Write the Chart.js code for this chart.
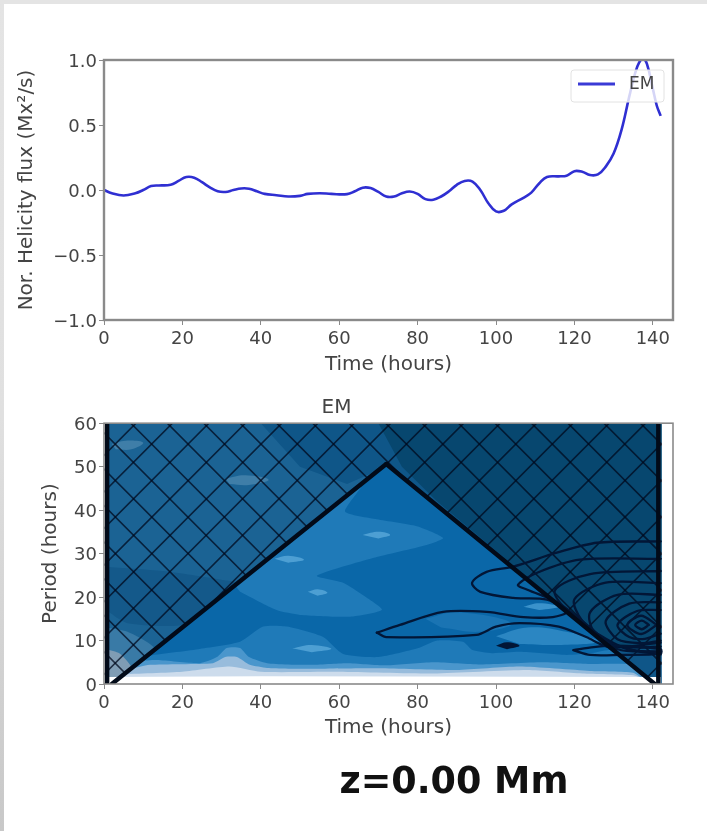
<!DOCTYPE html>
<html lang="en">
<head>
<meta charset="UTF-8">
<title>Helicity flux EM</title>
<style>
    html, body { margin: 0; padding: 0; background: #fff; }
    body { width: 707px; height: 831px; position: relative; overflow: hidden; }
    #strip-top { position: absolute; left: 0; top: 0; width: 707px; height: 4px; background: #e4e4e4; }
    #strip-left { position: absolute; left: 0; top: 0; width: 4px; height: 831px; background: linear-gradient(#e4e4e4, #e0e0e0 50%, #c8c8c8); }
    canvas { position: absolute; left: 0; filter: blur(0.6px); }
    #fluxChart { top: 0; }
    #waveChart { top: 380px; }
    #height-label { position: absolute; left: 0; width: 908px; top: 759px; text-align: center; font: bold 36.5px "DejaVu Sans"; color: #111; filter: blur(0.6px); }
</style>
<script src="https://cdn.jsdelivr.net/npm/chart.js"></script>
</head>
<body>
<div id="strip-top"></div>
<div id="strip-left"></div>
<canvas id="fluxChart" width="707" height="380"></canvas>
<canvas id="waveChart" width="707" height="360"></canvas>
<div id="height-label">z=0.00 Mm</div>
<script>
// tick labels
const timeTicks = [0, 20, 40, 60, 80, 100, 120, 140];
const fluxTicks = [-1, -0.5, 0, 0.5, 1];
const periodTicks = [0, 10, 20, 30, 40, 50, 60];

// helicity flux curve
const fluxTime = [0, 2, 5, 8, 10, 12, 14, 17, 19, 21, 23, 25, 27, 29, 31, 33, 35, 37, 39, 41, 44, 47, 50, 52, 55, 58, 62, 64, 66, 68, 70, 72, 74, 76, 78, 80, 82, 84, 86, 88, 90, 92, 94, 96, 98, 100, 102, 104, 107, 109, 111, 113, 116, 118, 120, 122, 124, 126, 128, 130, 132, 134, 135.5, 136.5, 137.5, 138.5, 140, 141, 142];
const fluxValues = [0, -0.025, -0.042, -0.025, 0, 0.03, 0.035, 0.04, 0.07, 0.1, 0.095, 0.06, 0.02, -0.01, -0.015, 0, 0.012, 0.01, -0.01, -0.03, -0.04, -0.05, -0.045, -0.03, -0.025, -0.03, -0.032, -0.01, 0.018, 0.015, -0.015, -0.05, -0.05, -0.025, -0.012, -0.03, -0.07, -0.075, -0.05, -0.01, 0.04, 0.07, 0.065, 0, -0.1, -0.165, -0.16, -0.11, -0.06, -0.02, 0.05, 0.1, 0.105, 0.11, 0.145, 0.14, 0.115, 0.12, 0.18, 0.28, 0.46, 0.72, 0.9, 0.98, 1.01, 0.97, 0.78, 0.65, 0.57];

// wavelet power regions, [time, period] outlines. outside the cone first
const outerBase = [[0.5, 0], [142.3, 0], [142.3, 60], [0.5, 60]];
const outerMid = [[40, 60], [142.3, 60], [142.3, 0], [137, 0], [72, 50], [62, 46], [50, 50]];
const outerRight = [[70, 60], [142.3, 60], [142.3, 8], [130, 8], [85, 42], [76, 50]];
const outerBand = [[0.5, 27], [15, 26], [30, 24], [34, 23], [22, 14], [6, 14], [0.5, 17]];
const outerGlow1 = [[0.5, 13], [6, 12], [13, 8], [9, 4], [3, 2], [0.5, 2]];
const outerGlow2 = [[0.5, 8], [4, 7], [7, 3.5], [3, 1], [0.5, 1]];
const outerFleck1 = [[2, 55.2], [6, 56], [10, 55.5], [7, 54], [3, 54]];
const outerFleck2 = [[31, 47.2], [36, 48], [42, 47], [37, 45.8], [32, 46]];
const rightMargin = [[142.3, -1], [146, -1], [146, 61], [142.3, 61]];

// hatch crossings along the top edge
const hatchTop = [-57.5, -48.2, -38.9, -29.6, -20.3, -11, -1.8, 7.5, 16.8, 26.1, 35.4, 44.7, 53.9, 63.2, 72.5, 81.8, 91.1, 100.4, 109.7, 119, 128.2, 137.5, 146.8, 156.1, 165.4, 174.7, 184, 193.3, 202.5];

// inside the cone
const coneShape = [[2, 0], [72, 50.6], [140.5, 0]];
const bandUpper = [[33.5, 22.6], [65.5, 45.3], [61.5, 39.7], [69.6, 37.9], [79.8, 36.3], [86.5, 33.6], [82.3, 32], [68.6, 29], [54.3, 24.9], [61, 23.3], [66, 20.5], [70.9, 17.1], [62.8, 15.5], [50, 15.9], [44, 17], [34.7, 21.2]];
const bandLower = [[11, 6.5], [24, 8], [34.7, 9.7], [40.6, 13.2], [46.7, 13.2], [55.9, 10.8], [61, 6.9], [70, 6.2], [80, 8.2], [85, 10], [91.6, 9.7], [94, 7.8], [99, 7.1], [106, 7.4], [118, 6.7], [125, 7.2], [130, 7.8], [137, 2.5], [139, 0.8], [4, 0.8]];
const bandPatchA = [[100, 11], [108, 13], [118, 12], [126, 9.8], [116, 9], [106, 9.2]];
const bandPatchB = [[82, 15], [90, 16.5], [104, 14], [96, 12], [86, 13]];
const bandLight = [[9, 5.3], [13.5, 5.5], [24.5, 4.8], [28.8, 6.2], [31.3, 8.3], [34.7, 8.3], [37, 6.2], [41.6, 4.8], [52.5, 4.4], [62, 4.8], [72, 4.3], [84, 5], [96, 4.5], [112, 5], [124, 4.6], [134, 4.5], [136, 3], [138.5, 0.8], [3, 0.8]];
const bandPale = [[6, 3.3], [11.7, 4.4], [27.8, 4.8], [30.9, 6.2], [33.9, 6.2], [37.2, 4.4], [41.6, 3.7], [52.5, 3.5], [70, 3.6], [90, 3.2], [106, 4], [124, 3], [135, 2.6], [137.5, 0.8], [3, 0.8]];
const bandPaler = [[4.5, 2.2], [20, 2.8], [32, 4], [40, 2.8], [60, 2.8], [84, 2.4], [108, 3.2], [122, 2.4], [135, 2], [137.5, 1], [3, 1]];
const bandBottom = [[0.5, 1.6], [40, 1.8], [142, 1.6], [142, -1], [0.5, -1]];
const fleckA = [[66, 34.3], [70, 35], [73, 34.3], [70, 33.5]];
const fleckB = [[43.5, 28.8], [47, 29.5], [51, 28.6], [47, 27.9]];
const fleckC = [[52, 21.2], [54.5, 21.8], [57, 21], [54.5, 20.3]];
const fleckD = [[48, 8.2], [53, 9], [58, 8.1], [53, 7.3]];
const fleckE = [[107, 17.8], [111, 18.6], [116, 17.8], [111, 17]];

// contour lines of the second series
const contourA = [[69.6, 11.8], [75.5, 13.6], [86.5, 16.6], [97.6, 16.6], [107, 15.4], [114.5, 15.4], [118, 16.6], [113, 19.4], [104.4, 19.8], [96, 21.2], [93.9, 23.3], [97.6, 25.8], [104.4, 27], [115.5, 30.2], [125.8, 32.5], [142, 32.8]];
const contourB = [[69.6, 11.8], [72, 10.8], [95, 11.3], [100, 13.2], [106, 14], [116, 13.2], [123, 10.8], [129, 8.5], [142, 9.5]];
const contourC = [[142, 28.8], [121.4, 28.6], [110.5, 25.6], [105.6, 22.8], [108, 21.7], [116, 18.6], [124, 13], [131, 8], [142, 7.5]];
const contourD = [[142, 26], [124, 25.3], [115, 21.5], [119, 16], [126, 11.5], [133, 8.2], [142, 6.8]];
const contourE = [[142, 23.2], [128, 23.3], [120, 19.5], [122, 14.5], [128, 10], [135, 7.8], [142, 7.3]];
const contourF = [[142, 20.5], [131, 20.5], [124, 16.5], [125, 12], [131, 8.8], [137, 8.4], [142, 8.6]];
const contourG = [[142, 18.8], [134, 18.5], [128, 14.5], [131, 10.3], [137, 9.4], [142, 10]];
const contourH = [[142, 17], [136, 16.8], [131, 13.6], [134, 10.8], [138, 10.4], [142, 11.6]];
const contourI = [[141, 13.6], [137, 15.7], [133.5, 13.6], [137, 11.5], [141, 13.6]];
const contourJ = [[139, 13.6], [137.2, 14.6], [135.5, 13.6], [137.2, 12.6], [139, 13.6]];
const contourK = [[119.7, 7.8], [124.9, 8.5], [131, 8.8], [142, 8], [142, 7], [131.6, 6.7], [124, 6.7], [119.7, 7.8]];
const contourBlob = [[100, 8.8], [102.8, 9.6], [106, 8.8], [102.8, 8]];

// cone of influence edges
const coneLeft = [[2, 0], [72, 50.6]];
const coneRight = [[72, 50.6], [140.5, 0]];
const edgeLeft = [[0.8, 0], [0.8, 60]];
const edgeRight = [[141.4, 0], [141.4, 60]];

const textColor = '#444444';
const spineColor = '#8a8a8a';
const contourColor = '#021636';
const tickFont = { family: 'DejaVu Sans', size: 18 };
const titleFont = { family: 'DejaVu Sans', size: 20 };

function pts(list) {
    return list.map(p => ({ x: p[0], y: p[1] }));
}

// one filled outline
function region(list, color, tension) {
    return {
        data: pts(list), showLine: true, borderWidth: 0, pointRadius: 0,
        backgroundColor: color, fill: 'shape', tension: tension === undefined ? 0 : tension
    };
}

// one open stroke
function stroke(list, color, width, tension) {
    return {
        data: pts(list), showLine: true, borderColor: color, borderWidth: width, pointRadius: 0,
        fill: false, tension: tension || 0, borderCapStyle: 'round'
    };
}

// Spines all the way round and the legend box on top of the line
const framePlugin = {
    id: 'frame',
    afterDatasetsDraw(chart, args, opts) {
        const a = chart.chartArea, ctx = chart.ctx;
        ctx.save();
        if (opts.legend) {
            ctx.fillStyle = 'rgba(255,255,255,0.8)';
            ctx.strokeStyle = '#e2e2e2';
            ctx.lineWidth = 1;
            ctx.beginPath();
            ctx.roundRect(571, 70, 93, 32, 3);
            ctx.fill();
            ctx.stroke();
            ctx.strokeStyle = '#3a3ad6';
            ctx.lineWidth = 3;
            ctx.beginPath();
            ctx.moveTo(578, 84);
            ctx.lineTo(615, 84);
            ctx.stroke();
            ctx.fillStyle = textColor;
            ctx.font = '17px "DejaVu Sans"';
            ctx.textBaseline = 'middle';
            ctx.fillText(opts.legend, 629, 85);
        }
        ctx.strokeStyle = opts.color;
        ctx.lineWidth = opts.width;
        ctx.strokeRect(a.left, a.top, a.right - a.left, a.bottom - a.top);
        ctx.restore();
    }
};

function axisOptions(ticks, label, isX, size, titlePad, format) {
    return {
        type: 'linear',
        afterBuildTicks: s => { s.ticks = ticks.map(v => ({ value: v })); },
        afterFit: s => { if (isX) s.height = size; else s.width = size; },
        grid: { drawOnChartArea: false, drawTicks: true, tickLength: 5, color: spineColor },
        border: { display: false },
        ticks: {
            color: textColor, font: tickFont, padding: isX ? 4 : 2, labelOffset: isX ? 0 : 2,
            maxRotation: 0, autoSkip: false, callback: format
        },
        title: {
            display: true, text: label, color: textColor, font: titleFont,
            padding: isX ? { top: 0, bottom: titlePad } : { top: titlePad, bottom: 0 }
        }
    };
}

new Chart(document.getElementById('fluxChart'), {
    type: 'scatter',
    data: {
        datasets: [{
            label: 'EM',
            data: fluxTime.map((t, i) => ({ x: t, y: fluxValues[i] })),
            showLine: true, borderColor: '#2f2fd2', borderWidth: 2.6, pointRadius: 0,
            tension: 0.4
        }]
    },
    options: {
        responsive: false,
        animation: false,
        layout: { padding: { top: 60, right: 34, left: 0, bottom: 0 } },
        plugins: {
            legend: { display: false },
            tooltip: { enabled: false },
            frame: { color: spineColor, width: 2.4, legend: 'EM' }
        },
        scales: {
            x: Object.assign(axisOptions(timeTicks, 'Time (hours)', true, 60, 3, v => String(v)), { min: 0, max: 145.15 }),
            y: Object.assign(axisOptions(fluxTicks, 'Nor. Helicity flux (Mx²/s)', false, 104, 15, v => v.toFixed(1).replace('-', '−')), { min: -1, max: 1 })
        }
    },
    plugins: [framePlugin]
});

const waveDatasets = [
    region(outerBase, '#1b6394'),
    region(outerMid, '#0f5688'),
    region(outerRight, '#07476f'),
    region(outerBand, '#14598a', 0.25),
    region(outerGlow1, '#397aa6', 0.25),
    region(outerGlow2, '#7f9cb4', 0.25),
    region(outerFleck1, '#3f7ea8', 0.4),
    region(outerFleck2, '#3f7ea8', 0.4)
];
hatchTop.forEach(x => {
    // lines leave the top edge at 45 degrees on screen, 66.3 hours across the 60 hour height
    waveDatasets.push(stroke([[x - 0.66, 60], [x - 0.66 + 66.3, 0]], 'rgba(0,10,30,0.75)', 1.6));
    waveDatasets.push(stroke([[x + 0.66, 60], [x + 0.66 - 66.3, 0]], 'rgba(0,10,30,0.75)', 1.6));
});
waveDatasets.push(
    region(rightMargin, '#ffffff'),
    region(coneShape, '#0a67a8'),
    region(bandUpper, '#1f7ab8', 0.2),
    region(bandLower, '#1f7ab8', 0.2),
    region(bandPatchA, '#2b86c2', 0.4),
    region(bandPatchB, '#1a74b3', 0.4),
    region(bandLight, '#4a96cc', 0.2),
    region(bandPale, '#98bcdc', 0.2),
    region(bandPaler, '#cddcec', 0.2),
    region(bandBottom, '#ffffff'),
    region(fleckA, '#4d9fd3', 0.4),
    region(fleckB, '#4d9fd3', 0.4),
    region(fleckC, '#4d9fd3', 0.4),
    region(fleckD, '#4d9fd3', 0.4),
    region(fleckE, '#3a92cb', 0.4),
    stroke(contourA, contourColor, 2.3, 0.3),
    stroke(contourB, contourColor, 2.3, 0.3),
    stroke(contourC, contourColor, 2.3, 0.3),
    stroke(contourD, contourColor, 2.3, 0.3),
    stroke(contourE, contourColor, 2.3, 0.3),
    stroke(contourF, contourColor, 2.3, 0.3),
    stroke(contourG, contourColor, 2.3, 0.3),
    stroke(contourH, contourColor, 2.3, 0.3),
    stroke(contourI, contourColor, 2.3, 0.3),
    stroke(contourJ, contourColor, 2.3, 0.3),
    stroke(contourK, contourColor, 2.3, 0.3),
    region(contourBlob, contourColor, 0.4),
    stroke(coneLeft, '#020a18', 4.4),
    stroke(coneRight, '#020a18', 4.4),
    stroke(edgeLeft, '#020a18', 4.4),
    stroke(edgeRight, '#020a18', 4.4)
);
// later entries have to paint over earlier ones
waveDatasets.forEach((d, i) => { d.order = -i; });

new Chart(document.getElementById('waveChart'), {
    type: 'scatter',
    data: { datasets: waveDatasets },
    options: {
        responsive: false,
        animation: false,
        layout: { padding: { top: 0, right: 34, left: 0, bottom: 0 } },
        plugins: {
            legend: { display: false },
            tooltip: { enabled: false },
            title: {
                display: true, text: 'EM', color: textColor, padding: { top: 16, bottom: 3.2 },
                font: { family: 'DejaVu Sans', size: 20, weight: 'normal' }
            },
            frame: { color: spineColor, width: 1.6 }
        },
        scales: {
            x: Object.assign(axisOptions(timeTicks, 'Time (hours)', true, 56, 0, v => String(v)), { min: 0, max: 145.15 }),
            y: Object.assign(axisOptions(periodTicks, 'Period (hours)', false, 104, 39, v => String(v)), { min: 0, max: 60 })
        }
    },
    plugins: [framePlugin]
});
</script>
</body>
</html>
